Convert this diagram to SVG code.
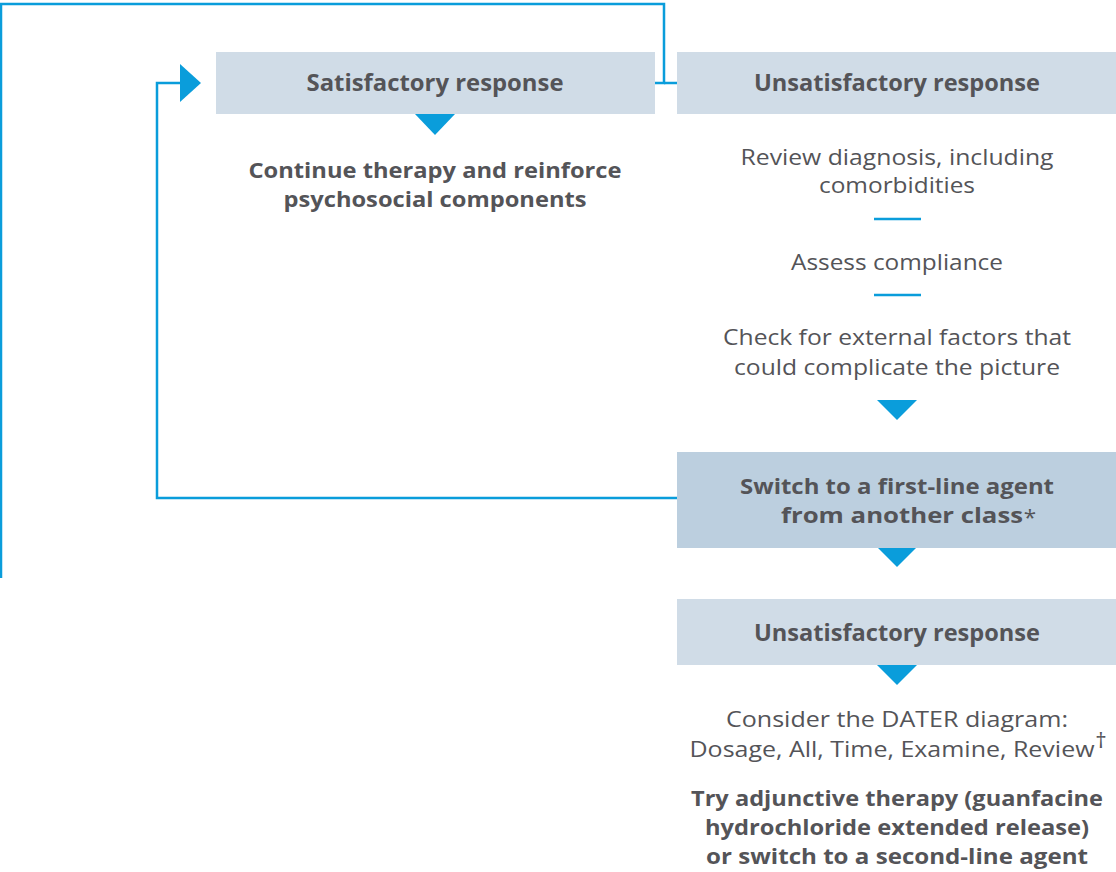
<svg xmlns="http://www.w3.org/2000/svg" width="1116" height="872" viewBox="0 0 1116 872">
<style>
.box{fill:#d0dce7}
.box2{fill:#bccfdf}
.tri{fill:#0a9ddb}
.ln{fill:none;stroke:#0a9ddb;stroke-width:2.5}
.b{font-family:"Open Sans",Lato,sans-serif;font-weight:bold;font-size:23px;fill:#545458;text-anchor:middle}
.bs{font-size:22px}
.r{font-family:"Open Sans",Lato,sans-serif;font-size:22.5px;fill:#545458;text-anchor:middle}
</style>
<rect width="1116" height="872" fill="#fff"/>
<g id="connectors">
<polyline class="ln" points="1,578 1,4 664,4 664,83 655,83"/>
<line class="ln" x1="664" y1="83" x2="677" y2="83"/>
<polyline class="ln" points="677,498 157,498 157,83 182,83"/>
<polygon class="tri" points="180,64 201,83 180,102"/>
<line class="ln" x1="874" y1="219" x2="921" y2="219"/>
<line class="ln" x1="874" y1="295" x2="921" y2="295"/>
<polygon class="tri" points="415,114 455,114 435,135"/>
<polygon class="tri" points="877,400 917,400 897,420"/>
<polygon class="tri" points="877,547 917,547 897,567"/>
<polygon class="tri" points="877,665 917,665 897,685"/>
</g>
<g id="n-satisfactory">
<rect class="box" x="216" y="52" width="439" height="62"/>
<text class="b" x="435" y="91" textLength="257" lengthAdjust="spacingAndGlyphs">Satisfactory response</text>
</g>
<g id="n-continue">
<text class="b bs" x="435" y="178" textLength="373" lengthAdjust="spacingAndGlyphs">Continue therapy and reinforce</text>
<text class="b bs" x="435" y="207" textLength="303" lengthAdjust="spacingAndGlyphs">psychosocial components</text>
</g>
<g id="n-unsat1">
<rect class="box" x="677" y="52" width="439" height="62"/>
<text class="b" x="897" y="91" textLength="286" lengthAdjust="spacingAndGlyphs">Unsatisfactory response</text>
</g>
<g id="n-review">
<text class="r" x="897" y="165" textLength="313" lengthAdjust="spacingAndGlyphs">Review diagnosis, including</text>
<text class="r" x="897" y="193" textLength="156" lengthAdjust="spacingAndGlyphs">comorbidities</text>
</g>
<g id="n-assess">
<text class="r" x="897" y="270" textLength="212" lengthAdjust="spacingAndGlyphs">Assess compliance</text>
</g>
<g id="n-check">
<text class="r" x="897" y="345" textLength="348" lengthAdjust="spacingAndGlyphs">Check for external factors that</text>
<text class="r" x="897" y="375" textLength="326" lengthAdjust="spacingAndGlyphs">could complicate the picture</text>
</g>
<g id="n-switch">
<rect class="box2" x="677" y="452" width="439" height="96"/>
<text class="b bs" x="897" y="494" textLength="314" lengthAdjust="spacingAndGlyphs">Switch to a first-line agent</text>
<text class="b bs" x="902" y="523" textLength="242" lengthAdjust="spacingAndGlyphs">from another class</text>
<text class="r" x="1030" y="525" font-size="20">*</text>
</g>
<g id="n-unsat2">
<rect class="box" x="677" y="599" width="439" height="66"/>
<text class="b" x="897" y="641" textLength="286" lengthAdjust="spacingAndGlyphs">Unsatisfactory response</text>
</g>
<g id="n-dater">
<text class="r" x="897" y="727" textLength="342" lengthAdjust="spacingAndGlyphs">Consider the DATER diagram:</text>
<text class="r" x="892" y="757" textLength="405" lengthAdjust="spacingAndGlyphs">Dosage, All, Time, Examine, Review</text>
<text class="r" x="1101" y="748" font-size="13">†</text>
</g>
<g id="n-try">
<text class="b bs" x="897" y="806" textLength="412" lengthAdjust="spacingAndGlyphs">Try adjunctive therapy (guanfacine</text>
<text class="b bs" x="897" y="835" textLength="384" lengthAdjust="spacingAndGlyphs">hydrochloride extended release)</text>
<text class="b bs" x="897" y="864" textLength="382" lengthAdjust="spacingAndGlyphs">or switch to a second-line agent</text>
</g>
</svg>
